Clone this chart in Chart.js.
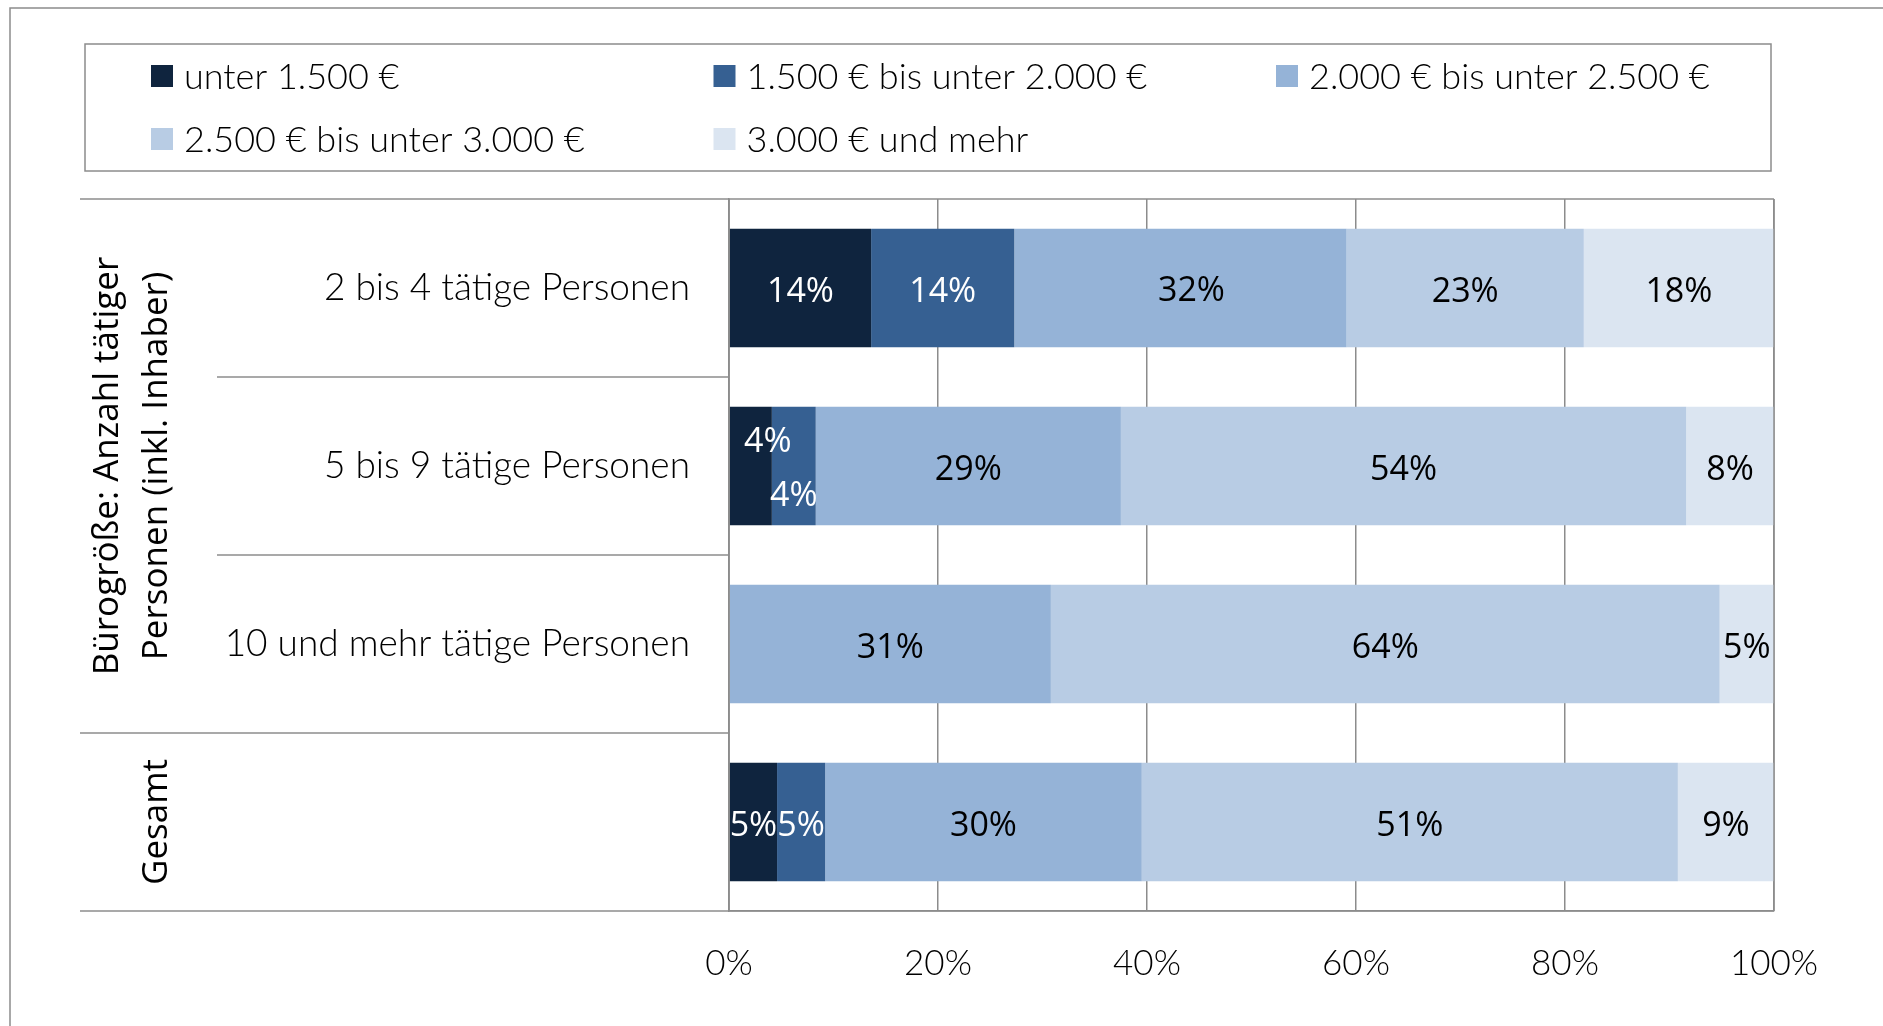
<!DOCTYPE html>
<html>
<head>
<meta charset="utf-8">
<title>Bürogröße und Einkommen</title>
<script src="https://cdn.jsdelivr.net/npm/chart.js@4.4.1/dist/chart.umd.min.js"></script>
<style>
  html, body { margin: 0; padding: 0; background: #ffffff; overflow: hidden; }
  canvas { display: block; }
</style>
</head>
<body>
<canvas id="chart" width="1883" height="1026"></canvas>
<script>
// ---- data -------------------------------------------------------------
const categories = [
  '2 bis 4 tätige Personen',
  '5 bis 9 tätige Personen',
  '10 und mehr tätige Personen',
  'Gesamt'
];
// category groups shown in the outer label column (rows are indices into categories)
const groupTitles = [
  ['Bürogröße: Anzahl tätiger', 'Personen (inkl. Inhaber)'],
  ['Gesamt']
];
const groupRows = [
  [0, 1, 2],
  [3]
];
const seriesNames = [
  'unter 1.500 €',
  '1.500 € bis unter 2.000 €',
  '2.000 € bis unter 2.500 €',
  '2.500 € bis unter 3.000 €',
  '3.000 € und mehr'
];
// shares in percent per category
const under1500   = [13.6,  4.1, null,  4.6];
const from1500    = [13.7,  4.2, null,  4.6];
const from2000    = [31.8, 29.2, 30.8, 30.3];
const from2500    = [22.7, 54.1, 64.0, 51.3];
const from3000    = [18.2,  8.4,  5.2,  9.2];
const xTickValues = [0, 20, 40, 60, 80, 100];

// ---- styling ----------------------------------------------------------
const seriesColors = ['#0f243e', '#366092', '#95b3d7', '#b8cce4', '#dbe5f1'];
const labelColors  = ['#ffffff', '#ffffff', '#000000', '#000000', '#000000'];
const LINE_COLOR = '#8c8c8c';
const LINE_WIDTH = 1.5;
const TEXT_FONT  = '300 36px Lato';
const VALUE_FONT = '400 34px "Open Sans"';
const GROUP_FONT = '400 35px "Open Sans"';

// small shifts for value labels ("dataset:row")
const labelNudges = { '0:1': [17, -28], '1:1': [0, 26], '2:0': [11, -1] };

const seriesValues = [under1500, from1500, from2000, from2500, from3000];

// ---- plugins ----------------------------------------------------------
const pageFrame = {
  id: 'pageFrame',
  beforeDraw(chart) {
    const ctx = chart.ctx;
    ctx.save();
    ctx.strokeStyle = LINE_COLOR;
    ctx.lineWidth = LINE_WIDTH;
    ctx.beginPath();
    ctx.moveTo(10, chart.height);
    ctx.lineTo(10, 8);
    ctx.lineTo(chart.width, 8);
    ctx.stroke();
    ctx.restore();
  }
};

const boxLegend = {
  id: 'boxLegend',
  afterDraw(chart) {
    const ctx = chart.ctx;
    const box = { left: 85, top: 44, right: 1771, bottom: 171 };
    ctx.save();
    ctx.strokeStyle = LINE_COLOR;
    ctx.lineWidth = LINE_WIDTH;
    ctx.strokeRect(box.left, box.top, box.right - box.left, box.bottom - box.top);
    ctx.font = TEXT_FONT;
    ctx.textAlign = 'left';
    ctx.textBaseline = 'middle';
    chart.data.datasets.forEach((ds, i) => {
      const col = i % 3, row = Math.floor(i / 3);
      const sx = 151 + col * 562.5;
      const cy = 76 + row * 63;
      ctx.fillStyle = ds.backgroundColor;
      ctx.fillRect(sx, cy - 11, 22, 22);
      ctx.fillStyle = '#000000';
      ctx.fillText(ds.label, sx + 33, cy + 1);
    });
    ctx.restore();
  }
};

const groupColumn = {
  id: 'groupColumn',
  afterDraw(chart) {
    const ctx = chart.ctx;
    const area = chart.chartArea;
    const y = chart.scales.y;
    const step = y.getPixelForValue(1) - y.getPixelForValue(0);
    const rowTop = i => y.getPixelForValue(i) - step / 2;
    const rowBottom = i => y.getPixelForValue(i) + step / 2;
    ctx.save();
    ctx.strokeStyle = LINE_COLOR;
    ctx.lineWidth = LINE_WIDTH;
    const hline = (x0, x1, yy) => {
      ctx.beginPath(); ctx.moveTo(x0, yy); ctx.lineTo(x1, yy); ctx.stroke();
    };
    // outer frame of the plot
    hline(80, area.right, area.top);
    hline(80, area.right, area.bottom);
    ctx.beginPath(); ctx.moveTo(area.right, area.top); ctx.lineTo(area.right, area.bottom); ctx.stroke();
    ctx.beginPath(); ctx.moveTo(area.left, area.top); ctx.lineTo(area.left, area.bottom); ctx.stroke();
    groupRows.forEach((rows, g) => {
      // separators inside a group
      rows.slice(1).forEach(r => hline(217, area.left, rowTop(r)));
      // separator after the group
      if (g < groupRows.length - 1) hline(80, area.left, rowBottom(rows[rows.length - 1]));
      // rotated group title
      const cy = (rowTop(rows[0]) + rowBottom(rows[rows.length - 1])) / 2;
      const lines = groupTitles[g];
      ctx.save();
      ctx.font = GROUP_FONT;
      ctx.fillStyle = '#000000';
      ctx.textAlign = 'center';
      ctx.textBaseline = 'middle';
      lines.forEach((t, k) => {
        const cx = 157 - (lines.length - 1 - k) * 49;
        ctx.save();
        ctx.translate(cx, cy);
        ctx.rotate(-Math.PI / 2);
        ctx.fillText(t, 0, 0);
        ctx.restore();
      });
      ctx.restore();
    });
    ctx.restore();
  }
};

const valueLabels = {
  id: 'valueLabels',
  afterDatasetsDraw(chart) {
    const ctx = chart.ctx;
    ctx.save();
    ctx.font = VALUE_FONT;
    ctx.textAlign = 'center';
    ctx.textBaseline = 'middle';
    chart.data.datasets.forEach((ds, di) => {
      const meta = chart.getDatasetMeta(di);
      meta.data.forEach((bar, i) => {
        const v = ds.data[i];
        if (v == null || v <= 0) return;
        const p = bar.getProps(['x', 'y', 'base'], true);
        const n = labelNudges[di + ':' + i] || [0, 0];
        ctx.fillStyle = labelColors[di];
        ctx.fillText(Math.round(v) + '%', (p.x + p.base) / 2 + n[0], p.y + n[1] + 4);
      });
    });
    ctx.restore();
  }
};

// ---- chart ------------------------------------------------------------
function build() {
  const groupedAlone = new Set(groupRows.filter(r => r.length === 1).map(r => r[0]));
  new Chart(document.getElementById('chart'), {
    type: 'bar',
    data: {
      labels: categories,
      datasets: seriesNames.map((name, i) => ({
        label: name,
        data: seriesValues[i],
        backgroundColor: seriesColors[i],
        borderWidth: 0,
        categoryPercentage: 1,
        barPercentage: 0.665
      }))
    },
    options: {
      indexAxis: 'y',
      responsive: false,
      animation: false,
      devicePixelRatio: 1,
      layout: { padding: { left: 0, top: 199, right: 109, bottom: 0 } },
      plugins: { legend: { display: false }, tooltip: { enabled: false } },
      scales: {
        x: {
          stacked: true,
          min: 0,
          max: 100,
          afterBuildTicks: s => { s.ticks = xTickValues.map(v => ({ value: v })); },
          afterFit: s => { s.height = 115; },
          grid: { color: LINE_COLOR, lineWidth: LINE_WIDTH, drawTicks: false },
          border: { display: true, color: LINE_COLOR, width: LINE_WIDTH },
          ticks: {
            padding: 32,
            color: '#000000',
            font: { family: 'Lato', size: 35, weight: '300' },
            callback: v => v + '%'
          }
        },
        y: {
          stacked: true,
          afterFit: s => { s.width = 729; },
          grid: { display: false, drawTicks: false },
          border: { display: true, color: LINE_COLOR, width: LINE_WIDTH },
          ticks: {
            padding: 39,
            color: '#000000',
            font: { family: 'Lato', size: 37, weight: '300' },
            callback: (v, i) => groupedAlone.has(i) ? '' : categories[i]
          }
        }
      }
    },
    plugins: [pageFrame, valueLabels, groupColumn, boxLegend]
  });
}

Promise.all([
  document.fonts.load(TEXT_FONT),
  document.fonts.load(VALUE_FONT),
  document.fonts.load(GROUP_FONT)
]).catch(() => {}).then(build);
</script>
</body>
</html>
